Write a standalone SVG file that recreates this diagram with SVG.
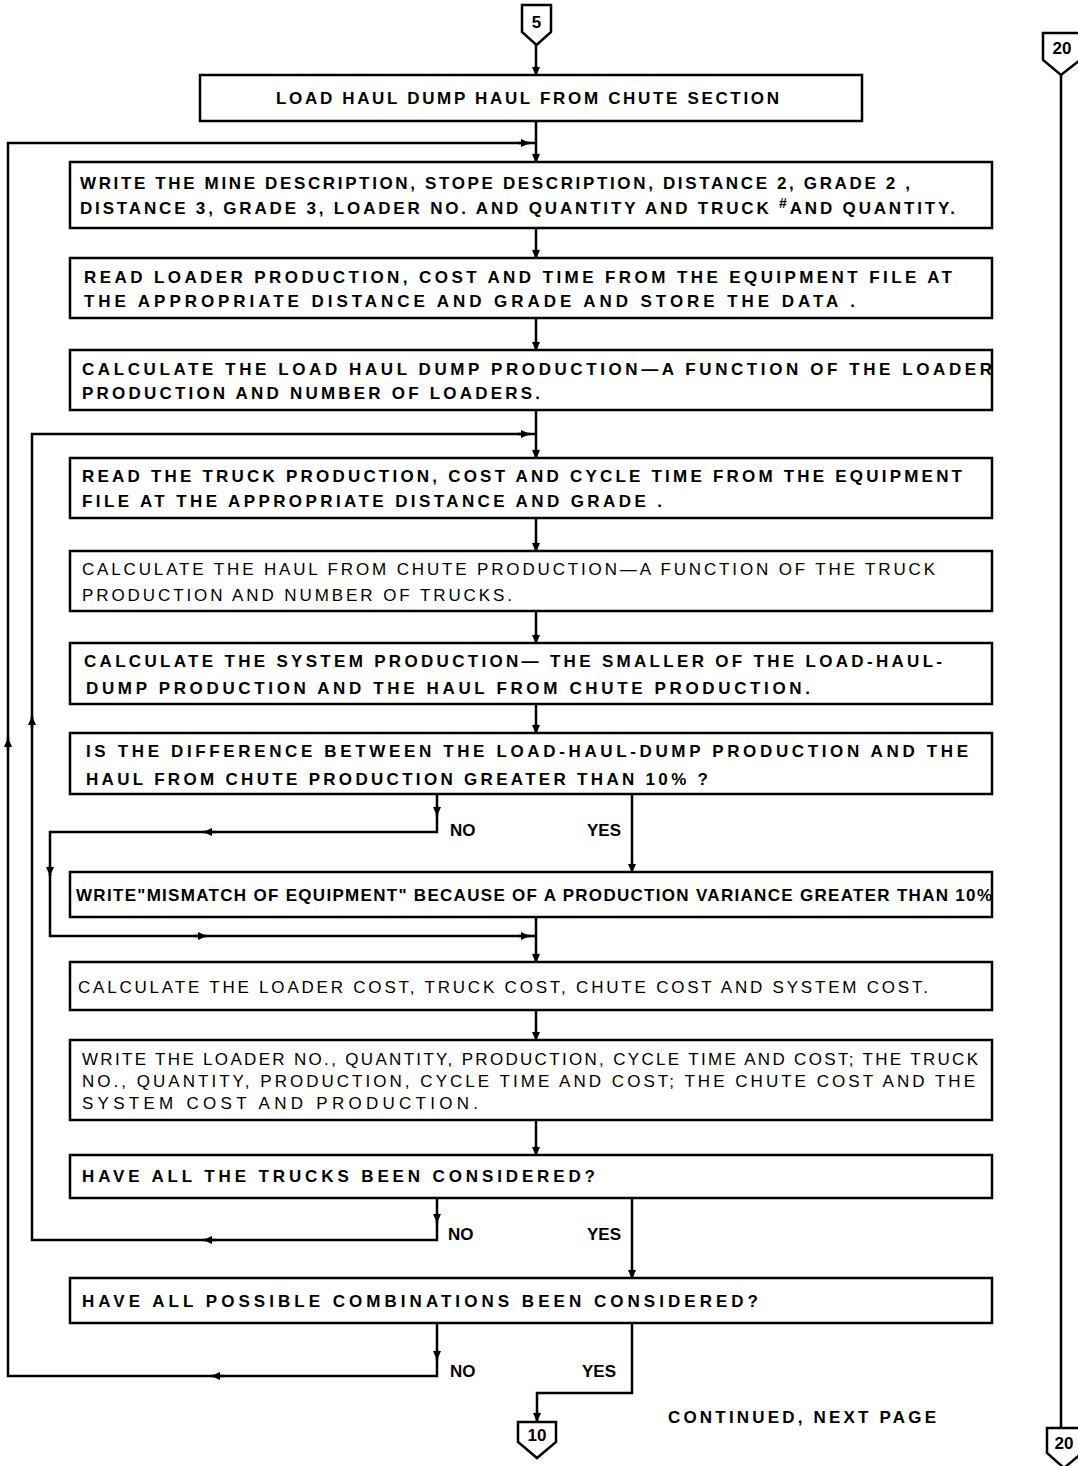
<svg xmlns="http://www.w3.org/2000/svg" width="1078" height="1466" viewBox="0 0 1078 1466">
<style>
.box{fill:#fff;stroke:#000;stroke-width:2.5}
.ln{fill:none;stroke:#000;stroke-width:2.5}
.ar{fill:none;stroke:#000;stroke-width:2.5;marker-end:url(#arr)}
text{font-family:"Liberation Sans",Arial,sans-serif;font-size:17px;font-weight:bold;fill:#000}
.lt{font-weight:normal}
.cn{font-size:17px;text-anchor:middle}
</style>
<defs>
<marker id="arr" markerUnits="userSpaceOnUse" markerWidth="10" markerHeight="10" refX="9" refY="5" orient="auto">
<path d="M0,1 L9,5 L0,9 Z" fill="#000"/>
</marker>
</defs>
<rect width="1078" height="1466" fill="#fff"/>
<g id="connectors">
<path class="ln" d="M536,45 V75"/>
<path class="ln" d="M536,121 V162"/>
<path class="ln" d="M437,1323 V1376 H8 V143 H536"/>
<path class="ln" d="M536,228 V258"/>
<path class="ln" d="M536,318 V350"/>
<path class="ln" d="M536,410 V458"/>
<path class="ln" d="M437,1198 V1240 H32 V434 H536"/>
<path class="ln" d="M536,518 V551"/>
<path class="ln" d="M536,611 V643"/>
<path class="ln" d="M536,704 V733"/>
<path class="ln" d="M437,794 V832 H50 V936 H536"/>
<path class="ln" d="M536,917 V962"/>
<path class="ln" d="M632,794 V872"/>
<path class="ln" d="M536,1010 V1040"/>
<path class="ln" d="M536,1120 V1155"/>
<path class="ln" d="M632,1198 V1278"/>
<path class="ln" d="M632,1323 V1393 H537 V1422"/>
<path class="ln" d="M1061,75 V1428"/>
<path class="ar" d="M536,66 V76"/>
<path class="ar" d="M536,153 V163"/>
<path class="ar" d="M536,249 V259"/>
<path class="ar" d="M536,341 V351"/>
<path class="ar" d="M536,449 V459"/>
<path class="ar" d="M536,542 V552"/>
<path class="ar" d="M536,634 V644"/>
<path class="ar" d="M536,724 V734"/>
<path class="ar" d="M536,953 V963"/>
<path class="ar" d="M536,1031 V1041"/>
<path class="ar" d="M536,1146 V1156"/>
<path class="ar" d="M632,863 V873"/>
<path class="ar" d="M632,1269 V1279"/>
<path class="ar" d="M537,1412 V1422"/>
<path class="ar" d="M518,143 H530"/>
<path class="ar" d="M518,434 H530"/>
<path class="ar" d="M518,936 H530"/>
<path class="ar" d="M195,936 H207"/>
<path class="ar" d="M215,832 H203"/>
<path class="ar" d="M215,1240 H203"/>
<path class="ar" d="M223,1376 H211"/>
<path class="ar" d="M8,750 V738"/>
<path class="ar" d="M32,728 V716"/>
<path class="ar" d="M437,806 V816"/>
<path class="ar" d="M437,1213 V1223"/>
<path class="ar" d="M437,1350 V1360"/>
<path class="ar" d="M50,866 V876"/>
</g>
<g id="c5"><path class="ln" d="M522,5 H551 V32 L536.5,45 L522,32 Z" fill="#fff"/><text class="cn" x="536.5" y="28">5</text></g>
<g id="c20top"><path class="ln" d="M1043,33 H1080 V60 L1061,75 L1043,60 Z" fill="#fff"/><text class="cn" x="1062" y="54">20</text></g>
<g id="c20bot"><path class="ln" d="M1047,1428 H1082 V1453 L1064,1468 L1047,1453 Z" fill="#fff"/><text class="cn" x="1064" y="1449">20</text></g>
<g id="c10"><path class="ln" d="M518,1422 H556 V1442 L537,1458 L518,1442 Z" fill="#fff"/><text class="cn" x="537" y="1441">10</text></g>
<g id="b1"><rect class="box" x="200" y="75" width="662" height="46"/><text x="276" y="104" textLength="503" lengthAdjust="spacing">LOAD HAUL DUMP HAUL FROM CHUTE SECTION</text></g>
<g id="b2"><rect class="box" x="70" y="162" width="922" height="66"/>
<text x="80" y="189" textLength="830" lengthAdjust="spacing">WRITE THE MINE DESCRIPTION, STOPE DESCRIPTION, DISTANCE 2, GRADE 2 ,</text>
<text x="80" y="214" textLength="875" lengthAdjust="spacing">DISTANCE 3, GRADE 3, LOADER NO. AND QUANTITY AND TRUCK <tspan dy="-6" font-size="14">#</tspan><tspan dy="6">AND QUANTITY.</tspan></text></g>
<g id="b3"><rect class="box" x="70" y="258" width="922" height="60"/>
<text x="84" y="283" textLength="868" lengthAdjust="spacing">READ LOADER PRODUCTION, COST AND TIME FROM THE EQUIPMENT FILE AT</text>
<text x="84" y="307" textLength="771" lengthAdjust="spacing">THE APPROPRIATE DISTANCE AND GRADE AND STORE THE DATA .</text></g>
<g id="b4"><rect class="box" x="70" y="350" width="922" height="60"/>
<text x="82" y="375" textLength="910" lengthAdjust="spacing">CALCULATE THE LOAD HAUL DUMP PRODUCTION—A FUNCTION OF THE LOADER</text>
<text x="82" y="399" textLength="458" lengthAdjust="spacing">PRODUCTION AND NUMBER OF LOADERS.</text></g>
<g id="b5"><rect class="box" x="70" y="458" width="922" height="60"/>
<text x="82" y="482" textLength="880" lengthAdjust="spacing">READ THE TRUCK PRODUCTION, COST AND CYCLE TIME FROM THE EQUIPMENT</text>
<text x="82" y="507" textLength="580" lengthAdjust="spacing">FILE AT THE APPROPRIATE DISTANCE AND GRADE .</text></g>
<g id="b6"><rect class="box" x="70" y="551" width="922" height="60"/>
<text class="lt" x="82" y="575" textLength="853" lengthAdjust="spacing">CALCULATE THE HAUL FROM CHUTE PRODUCTION—A FUNCTION OF THE TRUCK</text>
<text class="lt" x="82" y="601" textLength="430" lengthAdjust="spacing">PRODUCTION AND NUMBER OF TRUCKS.</text></g>
<g id="b7"><rect class="box" x="70" y="643" width="922" height="61"/>
<text x="84" y="667" textLength="858" lengthAdjust="spacing">CALCULATE THE SYSTEM PRODUCTION— THE SMALLER OF THE LOAD-HAUL-</text>
<text x="86" y="694" textLength="724" lengthAdjust="spacing">DUMP PRODUCTION AND THE HAUL FROM CHUTE PRODUCTION.</text></g>
<g id="b8"><rect class="box" x="70" y="733" width="922" height="61"/>
<text x="86" y="757" textLength="882" lengthAdjust="spacing">IS THE DIFFERENCE BETWEEN THE LOAD-HAUL-DUMP PRODUCTION AND THE</text>
<text x="86" y="785" textLength="622" lengthAdjust="spacing">HAUL FROM CHUTE PRODUCTION GREATER THAN 10% ?</text></g>
<g id="b9"><rect class="box" x="70" y="872" width="922" height="45"/>
<text x="76" y="901" font-size="16" textLength="916" lengthAdjust="spacing">WRITE"MISMATCH OF EQUIPMENT" BECAUSE OF A PRODUCTION VARIANCE GREATER THAN 10%</text></g>
<g id="b10"><rect class="box" x="70" y="962" width="922" height="48"/>
<text class="lt" x="78" y="993" textLength="850" lengthAdjust="spacing">CALCULATE THE LOADER COST, TRUCK COST, CHUTE COST AND SYSTEM COST.</text></g>
<g id="b11"><rect class="box" x="70" y="1040" width="922" height="80"/>
<text class="lt" x="82" y="1065" textLength="896" lengthAdjust="spacing">WRITE THE LOADER NO., QUANTITY, PRODUCTION, CYCLE TIME AND COST; THE TRUCK</text>
<text class="lt" x="82" y="1087" textLength="893" lengthAdjust="spacing">NO., QUANTITY, PRODUCTION, CYCLE TIME AND COST; THE CHUTE COST AND THE</text>
<text class="lt" x="82" y="1109" textLength="396" lengthAdjust="spacing">SYSTEM COST AND PRODUCTION.</text></g>
<g id="b12"><rect class="box" x="70" y="1155" width="922" height="43"/>
<text x="82" y="1182" textLength="513" lengthAdjust="spacing">HAVE ALL THE TRUCKS BEEN CONSIDERED?</text></g>
<g id="b13"><rect class="box" x="70" y="1278" width="922" height="45"/>
<text x="82" y="1307" textLength="676" lengthAdjust="spacing">HAVE ALL POSSIBLE COMBINATIONS BEEN CONSIDERED?</text></g>
<g id="labels">
<text x="450" y="836">NO</text><text x="587" y="836">YES</text>
<text x="448" y="1240">NO</text><text x="587" y="1240">YES</text>
<text x="450" y="1377">NO</text><text x="582" y="1377">YES</text>
<text x="668" y="1423" textLength="268" lengthAdjust="spacing">CONTINUED, NEXT PAGE</text>
</g>
</svg>
